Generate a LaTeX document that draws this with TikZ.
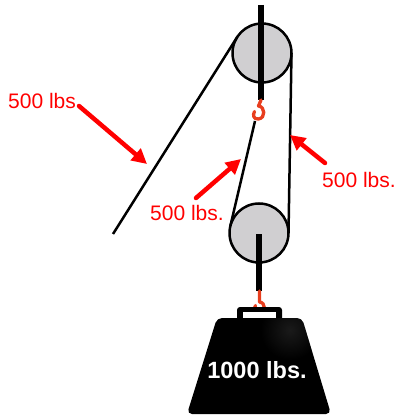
\documentclass[tikz,border=0pt]{standalone}
\usepackage{fontspec}
\setmainfont{Liberation Sans}
\usetikzlibrary{arrows.meta,calc}
\definecolor{pulleygrey}{RGB}{208,207,209}
\definecolor{hookred}{RGB}{232,62,30}
\begin{document}
\begin{tikzpicture}[x=1pt,y=-1pt,
  rope/.style={line width=2.5pt,black},
  pulley/.style={circle,draw=black,line width=2.5pt,fill=pulleygrey,
    minimum size=59pt,inner sep=0pt,outer sep=0pt},
  axle/.style={line width=6.5pt,black},
  hook/.style={line width=3.3pt,hookred,line cap=round,line join=round},
  force/.style={line width=4.5pt,red,line cap=round,
    -{Triangle[length=15pt,width=15pt]}},
  lbl/.style={text=red,font=\fontsize{21}{24}\selectfont,inner sep=0pt,
    anchor=base west}]
\useasboundingbox (0,0) rectangle (396,419);

% pulleys
\node[pulley] (top) at (262,53) {};
\node[pulley] (low) at (259,233) {};

% axles through the pulleys
\coordinate (topaxleA) at (261,5);
\coordinate (topaxleB) at (261,100);
\coordinate (lowaxleA) at (259,234);
\coordinate (lowaxleB) at (259,291);
\draw[axle] (topaxleA) -- (topaxleB);
\draw[axle] (lowaxleA) -- (lowaxleB);

% hooks
\draw[hook] (261,100) -- (258.5,106) .. controls (265,106.5) and (266,118) .. (258.5,119)
  .. controls (253.5,119.5) and (252.5,115) .. (254.5,111.5);
\draw[hook] (259.5,291) -- (259.5,302) .. controls (266,302.5) and (266,313) .. (259,313)
  .. controls (254.5,313) and (253.5,309) .. (255.5,305.5);

% rope
\coordinate (ropeend) at (113,234);
\coordinate (hookend) at (255,121);
\draw[rope] (ropeend) -- (top.147.8);
\draw[rope] (top.east) -- (low.east);
\draw[rope] (hookend) -- (low.166.5);

% weight
\fill[black,rounded corners=3pt] (237,307) rectangle (282,322);
\fill[white] (243,312) rectangle (276,322);
\node[coordinate] (weighttop) at (259,318) {};
\begin{scope}
  \clip[rounded corners=5pt] (217,318) -- (302,318) -- (331,414) -- (187,414) -- cycle;
  \fill[black] (180,310) rectangle (340,420);
  \shade[inner color=black!70,outer color=black,opacity=0.35] (290,330) circle (30);
\end{scope}
\node[text=white,font=\fontsize{23.5}{26}\bfseries\selectfont,inner sep=0pt,anchor=base]
  (load) at (257,378) {1000 lbs.};

% force labels
\node[lbl] (f1) at (8,109) {500 lbs};
\node[lbl] (f2) at (150,220) {500 lbs.};
\node[lbl] (f3) at (322,188) {500 lbs.};
\coordinate (f1tail) at (79,106);
\coordinate (f1tip) at (147,164);
\coordinate (f2tail) at (196,198);
\coordinate (f2tip) at (241,159);
\coordinate (f3tail) at (325,163);
\coordinate (f3tip) at (290,135);
\draw[force] (f1tail) -- (f1tip);
\draw[force] (f2tail) -- (f2tip);
\draw[force] (f3tail) -- (f3tip);
\end{tikzpicture}
\end{document}
